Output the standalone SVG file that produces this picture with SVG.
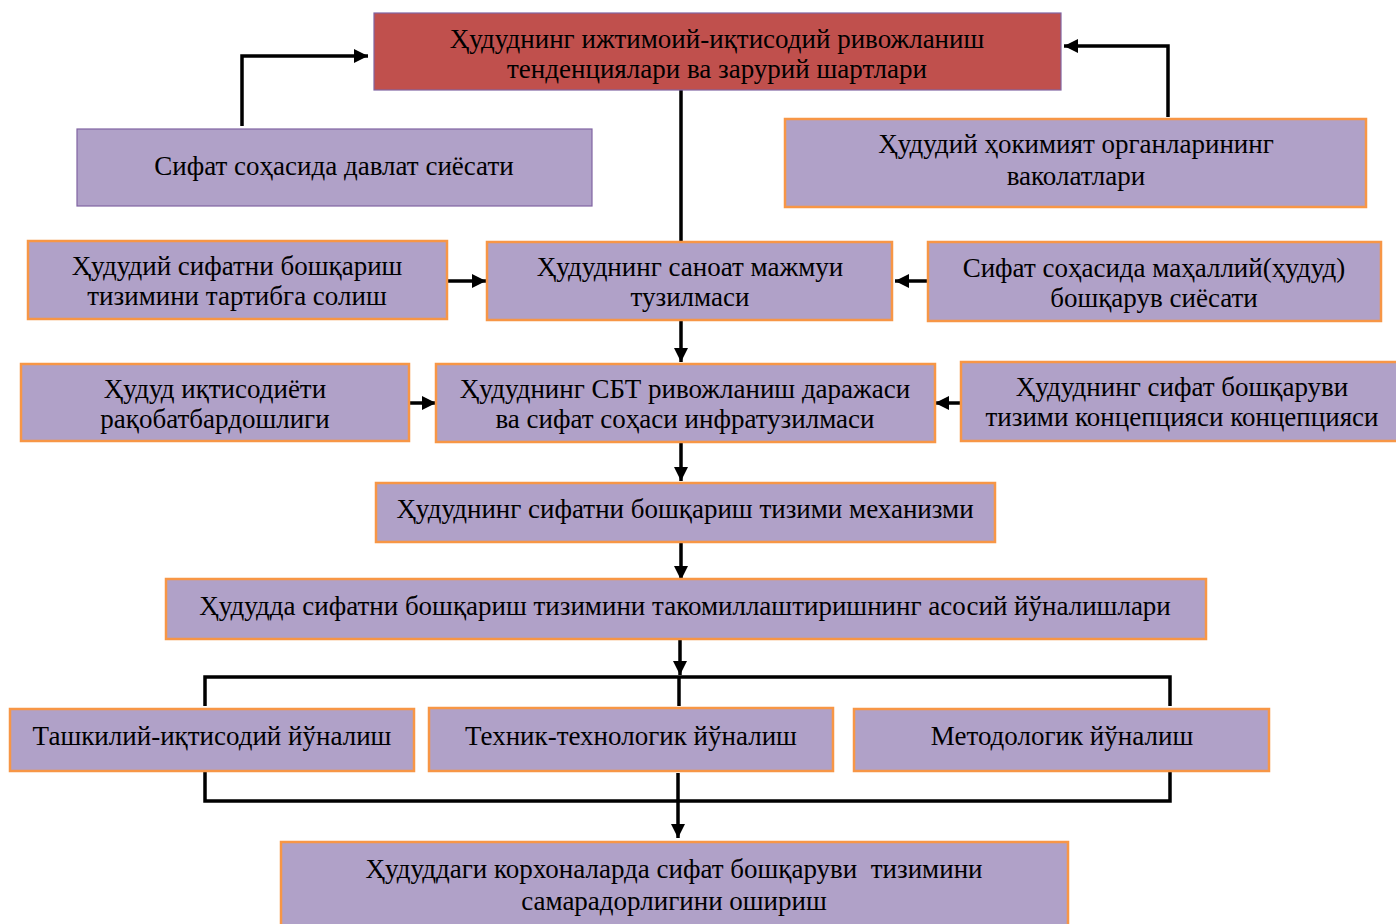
<svg xmlns="http://www.w3.org/2000/svg" width="1396" height="924" viewBox="0 0 1396 924">
<style>
.box{fill:#B0A1C8;stroke:#F79646;stroke-width:2.5}
.boxp{fill:#B0A1C8;stroke:#8064A2;stroke-width:1.2}
.red{fill:#C0504D;stroke:#8064A2;stroke-width:1.2}
text{font-family:"Liberation Serif","Times New Roman",serif;font-size:27px;fill:#000;text-anchor:middle}
.c{fill:none;stroke:#000;stroke-width:3.5}
</style>
<defs>
<marker id="ah" viewBox="0 0 10 10" refX="10" refY="5" markerWidth="14" markerHeight="14" markerUnits="userSpaceOnUse" orient="auto">
<path d="M0,0 L10,5 L0,10 Z" fill="#000"/>
</marker>
</defs>
<rect width="1396" height="924" fill="#fff"/>
<g id="connectors">
<polyline class="c" points="242,126 242,56 368,56" marker-end="url(#ah)"/>
<polyline class="c" points="1168,117 1168,46 1064,46" marker-end="url(#ah)"/>
<line class="c" x1="681" y1="90" x2="681" y2="243"/>
<line class="c" x1="448" y1="281" x2="486" y2="281" marker-end="url(#ah)"/>
<line class="c" x1="927" y1="281" x2="895" y2="281" marker-end="url(#ah)"/>
<line class="c" x1="681" y1="320" x2="681" y2="362" marker-end="url(#ah)"/>
<line class="c" x1="410" y1="403" x2="436" y2="403" marker-end="url(#ah)"/>
<line class="c" x1="961" y1="403" x2="935" y2="403" marker-end="url(#ah)"/>
<line class="c" x1="681" y1="442" x2="681" y2="481" marker-end="url(#ah)"/>
<line class="c" x1="681" y1="542" x2="681" y2="580" marker-end="url(#ah)"/>
<line class="c" x1="680" y1="639" x2="680" y2="675" marker-end="url(#ah)"/>
<polyline class="c" points="205,706 205,677 1170,677 1170,706"/>
<line class="c" x1="679" y1="677" x2="679" y2="706"/>
<polyline class="c" points="205,772 205,801 1170,801 1170,772"/>
<line class="c" x1="678" y1="773" x2="678" y2="838" marker-end="url(#ah)"/>
</g>
<g id="n1"><rect class="red" x="374" y="13" width="687" height="77"/>
<text x="717" y="48">Ҳудуднинг ижтимоий-иқтисодий ривожланиш</text>
<text x="717" y="78">тенденциялари ва зарурий шартлари</text></g>
<g id="n2"><rect class="boxp" x="77" y="129" width="515" height="77"/>
<text x="334" y="175">Сифат соҳасида давлат сиёсати</text></g>
<g id="n3"><rect class="box" x="785" y="119" width="581" height="88"/>
<text x="1076" y="153">Ҳудудий ҳокимият органларининг</text>
<text x="1076" y="185">ваколатлари</text></g>
<g id="n4"><rect class="box" x="28" y="241" width="419" height="78"/>
<text x="237" y="275">Ҳудудий сифатни бошқариш</text>
<text x="237" y="305">тизимини тартибга солиш</text></g>
<g id="n5"><rect class="box" x="487" y="242" width="405" height="78"/>
<text x="690" y="276">Ҳудуднинг саноат мажмуи</text>
<text x="690" y="306">тузилмаси</text></g>
<g id="n6"><rect class="box" x="928" y="242" width="453" height="79"/>
<text x="1154" y="277">Сифат соҳасида маҳаллий(ҳудуд)</text>
<text x="1154" y="307">бошқарув сиёсати</text></g>
<g id="n7"><rect class="box" x="21" y="364" width="388" height="77"/>
<text x="215" y="398">Ҳудуд иқтисодиёти</text>
<text x="215" y="428">рақобатбардошлиги</text></g>
<g id="n8"><rect class="box" x="436" y="364" width="499" height="78"/>
<text x="685" y="398">Ҳудуднинг СБТ ривожланиш даражаси</text>
<text x="685" y="428">ва сифат соҳаси инфратузилмаси</text></g>
<g id="n9"><rect class="box" x="961" y="362" width="440" height="79"/>
<text x="1182" y="396">Ҳудуднинг сифат бошқаруви</text>
<text x="1182" y="426">тизими концепцияси концепцияси</text></g>
<g id="n10"><rect class="box" x="376" y="483" width="619" height="59"/>
<text x="685" y="518">Ҳудуднинг сифатни бошқариш тизими механизми</text></g>
<g id="n11"><rect class="box" x="166" y="579" width="1040" height="60"/>
<text x="685" y="615">Ҳудудда сифатни бошқариш тизимини такомиллаштиришнинг асосий йўналишлари</text></g>
<g id="n12"><rect class="box" x="10" y="709" width="404" height="62"/>
<text x="212" y="745">Ташкилий-иқтисодий йўналиш</text></g>
<g id="n13"><rect class="box" x="429" y="708" width="404" height="63"/>
<text x="631" y="745">Техник-технологик йўналиш</text></g>
<g id="n14"><rect class="box" x="854" y="709" width="415" height="62"/>
<text x="1062" y="745">Методологик йўналиш</text></g>
<g id="n15"><rect class="box" x="281" y="842" width="787" height="90"/>
<text x="674" y="878" style="white-space:pre">Ҳудуддаги корхоналарда сифат бошқаруви  тизимини</text>
<text x="674" y="910">самарадорлигини ошириш</text></g>
</svg>
